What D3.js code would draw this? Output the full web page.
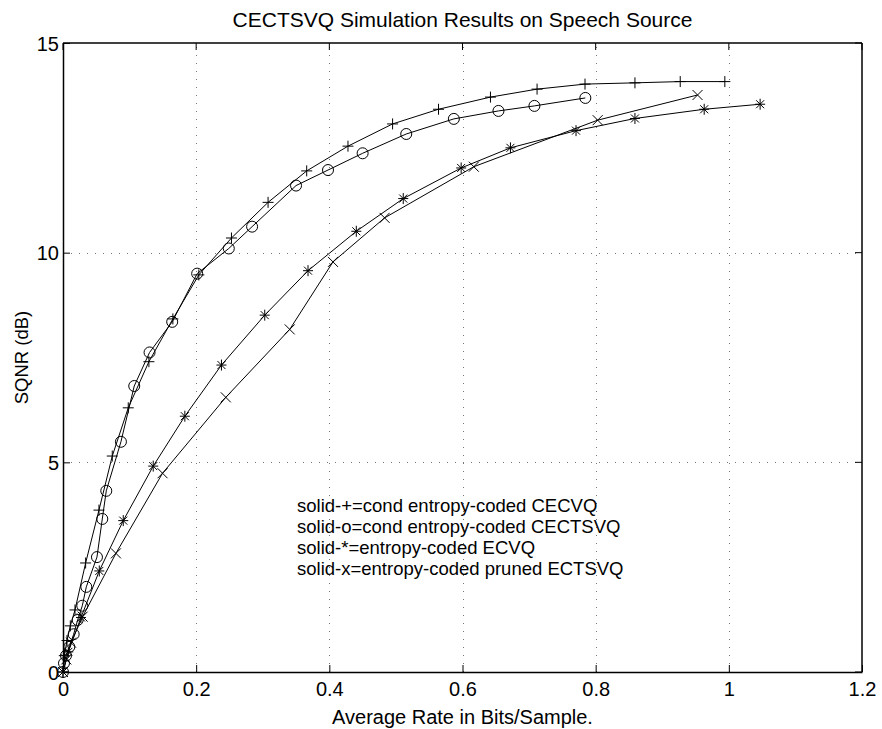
<!DOCTYPE html>
<meta charset="utf-8">
<html lang="en">
  <head>
    <style>
      body { margin: 0; background: #fff; }
      text { font-family: "Liberation Sans", Arial, sans-serif; fill: #000; }
      .grid line { stroke: #777; stroke-width: 1px; stroke-dasharray: 1,7; }
      .curve { fill: none; stroke: #000; stroke-width: 1px; }
      .mark { fill: none; stroke: #000; stroke-width: 1px; }
    </style>
  </head>
  <body>
    <script src="https://cdn.jsdelivr.net/npm/d3@7"></script>
    <svg></svg>
    <script>

      // rate (bits/sample) and SQNR (dB) for each curve
      var cecvqRate = [0, 0.002, 0.006, 0.011, 0.018, 0.034, 0.054, 0.074, 0.098, 0.129, 0.165, 0.204, 0.253, 0.308, 0.366, 0.428, 0.495, 0.564, 0.642, 0.712, 0.784, 0.859, 0.927, 0.994];
      var cecvqSqnr = [0, 0.39, 0.75, 1.1, 1.48, 2.6, 3.86, 5.15, 6.3, 7.4, 8.42, 9.47, 10.35, 11.2, 11.95, 12.54, 13.07, 13.42, 13.71, 13.9, 14.02, 14.05, 14.08, 14.08];

      var cectsvqRate = [0, 0.0015, 0.0045, 0.0095, 0.016, 0.022, 0.029, 0.035, 0.051, 0.059, 0.065, 0.087, 0.107, 0.13, 0.164, 0.2015, 0.249, 0.284, 0.35, 0.398, 0.45, 0.5155, 0.587, 0.654, 0.708, 0.7845];
      var cectsvqSqnr = [0, 0.21, 0.39, 0.6, 0.9, 1.24, 1.58, 2.03, 2.74, 3.65, 4.32, 5.49, 6.82, 7.62, 8.35, 9.5, 10.1, 10.62, 11.6, 11.97, 12.37, 12.83, 13.19, 13.38, 13.5, 13.69];

      var ecvqRate = [0, 0.008, 0.027, 0.0545, 0.0905, 0.1355, 0.183, 0.238, 0.303, 0.368, 0.4405, 0.511, 0.598, 0.672, 0.7705, 0.859, 0.963, 1.047];
      var ecvqSqnr = [0, 0.48, 1.3, 2.41, 3.61, 4.91, 6.1, 7.32, 8.51, 9.57, 10.51, 11.29, 12.02, 12.5, 12.91, 13.2, 13.42, 13.54];

      var ectsvqRate = [0, 0.005, 0.012, 0.0295, 0.0795, 0.1495, 0.2445, 0.3405, 0.4055, 0.483, 0.617, 0.803, 0.953];
      var ectsvqSqnr = [0, 0.3, 0.7, 1.32, 2.83, 4.74, 6.55, 8.17, 9.78, 10.83, 12.05, 13.16, 13.76];

      var xTicks = [0, 0.2, 0.4, 0.6, 0.8, 1, 1.2];
      var yTicks = [0, 5, 10, 15];

      var legendLines = [
        "solid-+=cond entropy-coded CECVQ",
        "solid-o=cond entropy-coded CECTSVQ",
        "solid-*=entropy-coded ECVQ",
        "solid-x=entropy-coded pruned ECTSVQ"
      ];

      var series = [
        { rate: cecvqRate, sqnr: cecvqSqnr, mark: "plus" },
        { rate: cectsvqRate, sqnr: cectsvqSqnr, mark: "circle" },
        { rate: ecvqRate, sqnr: ecvqSqnr, mark: "star" },
        { rate: ectsvqRate, sqnr: ectsvqSqnr, mark: "cross" }
      ];

      var width = 882, height = 729;
      var margin = { left: 63, right: 20, top: 43, bottom: 57 };

      var svg = d3.select("svg")
        .attr("width", width)
        .attr("height", height);

      var xScale = d3.scaleLinear()
        .domain([0, 1.2])
        .range([margin.left, width - margin.right]);

      var yScale = d3.scaleLinear()
        .domain([0, 15])
        .range([height - margin.bottom, margin.top]);

      var x0 = xScale(0), x1 = xScale(1.2), y0 = yScale(0), y1 = yScale(15);

      // dotted grid
      var grid = svg.append("g").attr("class", "grid");
      grid.selectAll(".gx")
        .data(xTicks.filter(function(d) { return d > 0 && d < 1.2; }))
        .enter().append("line")
        .attr("x1", function(d) { return Math.round(xScale(d)) + 0.5; })
        .attr("x2", function(d) { return Math.round(xScale(d)) + 0.5; })
        .attr("y1", y0).attr("y2", y1);
      grid.selectAll(".gy")
        .data(yTicks.filter(function(d) { return d > 0 && d < 15; }))
        .enter().append("line")
        .attr("y1", function(d) { return Math.round(yScale(d)) + 0.5; })
        .attr("y2", function(d) { return Math.round(yScale(d)) + 0.5; })
        .attr("x1", x0).attr("x2", x1);

      // bottom / left axes with inward ticks
      var xAxis = d3.axisBottom(xScale).tickValues(xTicks).tickSizeInner(-7).tickSizeOuter(0)
        .tickPadding(10).tickFormat(d3.format("~g"));
      var yAxis = d3.axisLeft(yScale).tickValues(yTicks).tickSizeInner(-7).tickSizeOuter(0)
        .tickPadding(4).tickFormat(d3.format("~g"));

      var gx = svg.append("g")
        .attr("transform", "translate(0," + y0 + ")")
        .call(xAxis);
      var gy = svg.append("g")
        .attr("transform", "translate(" + x0 + ",0)")
        .call(yAxis);
      [gx, gy].forEach(function(g) {
        g.select(".domain").attr("stroke", "#000").attr("stroke-width", 1.5);
        g.selectAll("line").attr("stroke", "#000");
        g.selectAll("text").style("font-size", "20px").attr("font-family", null);
      });
      gy.selectAll("text").attr("dy", "0.35em");

      // top / right frame with inward ticks
      svg.append("line").attr("x1", x0).attr("x2", x1).attr("y1", y1).attr("y2", y1)
        .attr("stroke", "#000").attr("stroke-width", 1.5);
      svg.append("line").attr("x1", x1).attr("x2", x1).attr("y1", y1).attr("y2", y0)
        .attr("stroke", "#000").attr("stroke-width", 1.5);
      svg.selectAll(".tt").data(xTicks).enter().append("line")
        .attr("x1", function(d) { return xScale(d); }).attr("x2", function(d) { return xScale(d); })
        .attr("y1", y1).attr("y2", y1 + 7).attr("stroke", "#000");
      svg.selectAll(".rt").data(yTicks).enter().append("line")
        .attr("y1", function(d) { return yScale(d); }).attr("y2", function(d) { return yScale(d); })
        .attr("x1", x1).attr("x2", x1 - 7).attr("stroke", "#000");

      // curves
      var line = d3.line()
        .x(function(d) { return xScale(d[0]); })
        .y(function(d) { return yScale(d[1]); });

      function markPath(type) {
        var s = 5.5;
        if (type === "plus") return "M" + (-s) + ",0H" + s + "M0," + (-s) + "V" + s;
        if (type === "cross") return "M-5,-5L5,5M-5,5L5,-5";
        if (type === "star") return "M-5,0H5M0,-5.5V5.5M-4,-4L4,4M-4,4L4,-4";
        return null;
      }

      series.forEach(function(s) {
        var pts = d3.zip(s.rate, s.sqnr);
        svg.append("path").datum(pts).attr("class", "curve").attr("d", line);
        var g = svg.append("g");
        if (s.mark === "circle") {
          g.selectAll("circle").data(pts).enter().append("circle")
            .attr("class", "mark")
            .attr("cx", function(d) { return xScale(d[0]); })
            .attr("cy", function(d) { return yScale(d[1]); })
            .attr("r", 5.5);
        } else {
          g.selectAll("path").data(pts).enter().append("path")
            .attr("class", "mark")
            .attr("transform", function(d) { return "translate(" + xScale(d[0]) + "," + yScale(d[1]) + ")"; })
            .attr("d", markPath(s.mark));
        }
      });

      // legend text
      svg.append("g").selectAll("text").data(legendLines).enter().append("text")
        .attr("x", 297)
        .attr("y", function(d, i) { return 512 + i * 21; })
        .style("font-size", "18.5px")
        .text(function(d) { return d; });

      // titles
      svg.append("text")
        .attr("x", (x0 + x1) / 2).attr("y", 27)
        .attr("text-anchor", "middle")
        .style("font-size", "21px")
        .text("CECTSVQ Simulation Results on Speech Source");

      svg.append("text")
        .attr("x", (x0 + x1) / 2).attr("y", 724)
        .attr("text-anchor", "middle")
        .style("font-size", "20px")
        .text("Average Rate in Bits/Sample.");

      svg.append("text")
        .attr("transform", "translate(28," + (y0 + y1) / 2 + ") rotate(-90)")
        .attr("text-anchor", "middle")
        .style("font-size", "18.5px")
        .text("SQNR (dB)");

    </script>
  </body>
</html>
